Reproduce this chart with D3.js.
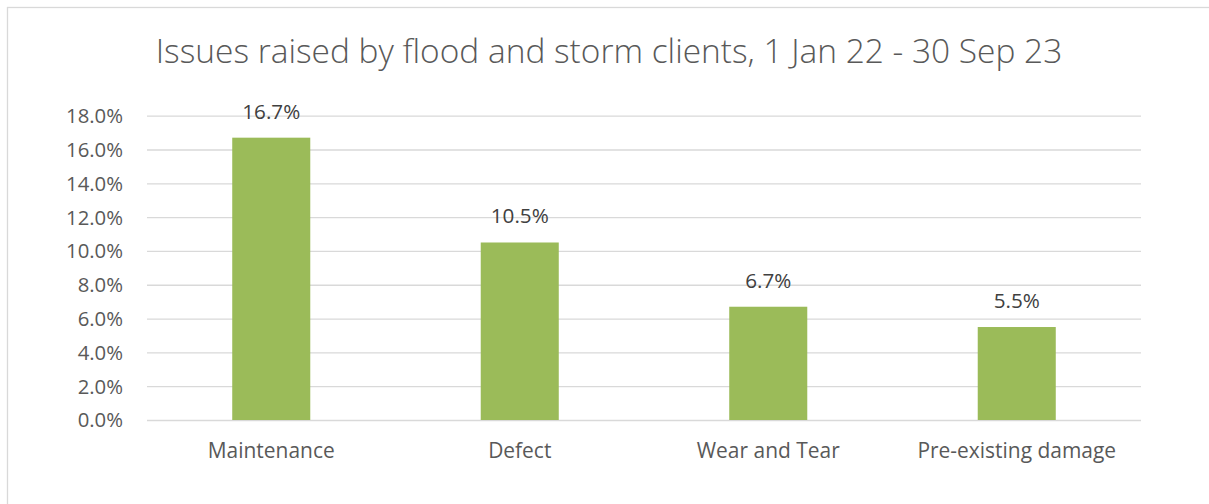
<!DOCTYPE html>
<html><head><meta charset="utf-8">
<script src="https://cdn.jsdelivr.net/npm/d3@7"></script>
<style>html,body{margin:0;padding:0;background:#fff;overflow:hidden}svg{display:block;font-family:"Open Sans",sans-serif}</style>
</head><body>
<script>
const categories = ["Maintenance", "Defect", "Wear and Tear", "Pre-existing damage"];
const values = [16.7, 10.5, 6.7, 5.5];
const yTicks = [0, 2, 4, 6, 8, 10, 12, 14, 16, 18];
const title = "Issues raised by flood and storm clients, 1 Jan 22 - 30 Sep 23";

const W = 1209, H = 504;
const svg = d3.select("body").append("svg").attr("width", W).attr("height", H);
svg.append("rect").attr("x", 7.5).attr("y", 7.5).attr("width", W + 10).attr("height", H + 10)
  .attr("fill", "#fff").attr("stroke", "#d9d9d9").attr("stroke-width", 1.3);

const m = {left: 147, right: 1141, top: 115.7, bottom: 420};
const x = d3.scaleBand().domain(categories).range([m.left, m.right]).paddingInner(0.686).paddingOuter(0.343);
const y = d3.scaleLinear().domain([0, 18]).range([m.bottom, m.top]);

function fit(sel, target) {
  const n = sel.node(); const fs = parseFloat(sel.attr("font-size"));
  const w = n.getComputedTextLength();
  return fs * target / w;
}

// gridlines
const yAxis = d3.axisLeft(y).tickValues(yTicks).tickFormat(d => d3.format(".1f")(d) + "%").tickSize(-(m.right - m.left)).tickPadding(24);
const gy = svg.append("g").attr("transform", `translate(${m.left},0)`).call(yAxis);
gy.select(".domain").remove();
gy.selectAll(".tick line").attr("stroke", "#d9d9d9").attr("stroke-width", 1.3);
gy.selectAll(".tick text").attr("fill", "#595959").attr("font-family", "Open Sans").attr("font-size", 18);
const tfs = fit(gy.selectAll(".tick text").filter(d => d === 18), 57);
gy.selectAll(".tick text").attr("font-size", tfs).attr("x", -24).attr("dy", "0.34em");

// bars
svg.append("g").selectAll("rect").data(values).join("rect")
  .attr("x", (d, i) => x(categories[i])).attr("width", x.bandwidth())
  .attr("y", d => y(d)).attr("height", d => y(0) - y(d)).attr("fill", "#9bbb59");

// data labels
const lbl = svg.append("g").selectAll("text").data(values).join("text")
  .attr("x", (d, i) => x(categories[i]) + x.bandwidth() / 2).attr("y", d => y(d) - 19)
  .attr("text-anchor", "middle").attr("fill", "#404040").attr("font-size", 18)
  .text(d => d.toFixed(1) + "%");
const lfs = fit(lbl.filter((d, i) => i === 0), 58);
lbl.attr("font-size", lfs);

// category labels
const cat = svg.append("g").selectAll("text").data(categories).join("text")
  .attr("x", d => x(d) + x.bandwidth() / 2).attr("y", 458)
  .attr("text-anchor", "middle").attr("fill", "#595959").attr("font-size", 18).text(d => d);
const cfs = fit(cat.filter((d, i) => i === 0), 127);
cat.attr("font-size", cfs);

// title
const t = svg.append("text").attr("x", 609).attr("y", 63).attr("text-anchor", "middle")
  .attr("fill", "#595959").attr("font-weight", 300).attr("font-size", 28).text(title);
t.attr("font-size", fit(t, 907));
</script>
</body></html>
